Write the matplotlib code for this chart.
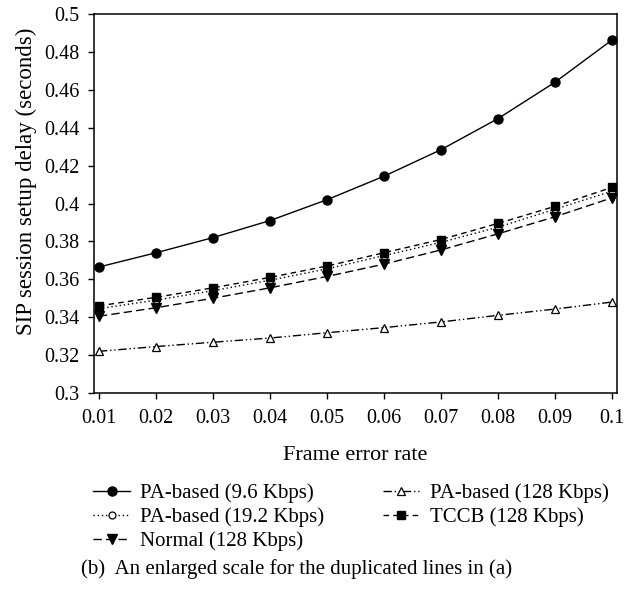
import matplotlib
matplotlib.use("Agg")
import matplotlib.pyplot as plt

plt.rcParams['font.family'] = ['Liberation Serif', 'DejaVu Serif']

fer = [0.01, 0.02, 0.03, 0.04, 0.05, 0.06, 0.07, 0.08, 0.09, 0.1]
xticklabels = ["0.01", "0.02", "0.03", "0.04", "0.05", "0.06", "0.07", "0.08", "0.09", "0.1"]
yticks = [0.3, 0.32, 0.34, 0.36, 0.38, 0.4, 0.42, 0.44, 0.46, 0.48, 0.5]
yticklabels = ["0.3", "0.32", "0.34", "0.36", "0.38", "0.4", "0.42", "0.44", "0.46", "0.48", "0.5"]

pa_96 = [0.3665, 0.374, 0.382, 0.391, 0.402, 0.4144, 0.4284, 0.4448, 0.464, 0.4863]
pa_192 = [0.3445, 0.349, 0.354, 0.3595, 0.3655, 0.3725, 0.3795, 0.3875, 0.397, 0.4065]
normal = [0.3405, 0.345, 0.350, 0.3555, 0.3615, 0.368, 0.3755, 0.384, 0.393, 0.403]
pa_128 = [0.322, 0.3245, 0.3268, 0.329, 0.3318, 0.3345, 0.3375, 0.341, 0.3443, 0.348]
tccb = [0.346, 0.3505, 0.3555, 0.361, 0.367, 0.374, 0.381, 0.3895, 0.3985, 0.4085]

fig = plt.figure(figsize=(6.24, 5.94), dpi=100)
ax = fig.add_axes([0.1506, 0.3384, 0.8382, 0.638])

lw = 1.0
l1, = ax.plot(fer, pa_96, '-', color='black', lw=lw, marker='o', ms=6.5,
              label="PA-based (9.6 Kbps)")
l2, = ax.plot(fer, pa_192, color='black', lw=lw, ls=(0, (1, 2)), marker='o', ms=5,
              mfc='white', mew=0.9, label="PA-based (19.2 Kbps)")
l3, = ax.plot(fer, normal, color='black', lw=lw, ls=(0, (6, 3)), marker='v', ms=6.5,
              label="Normal (128 Kbps)")
l4, = ax.plot(fer, pa_128, color='black', lw=lw, ls=(0, (6, 2, 1, 2, 1, 2)), marker='^',
              ms=5.5, mfc='white', mew=0.9, label="PA-based (128 Kbps)")
l5, = ax.plot(fer, tccb, color='black', lw=lw, ls=(0, (4, 3)), marker='s', ms=5.5,
              label="TCCB (128 Kbps)")

ax.set_xlim(0.00912, 0.10088)
ax.set_ylim(0.3, 0.5)
ax.set_xticks(fer)
ax.set_xticklabels(xticklabels)
ax.set_yticks(yticks)
ax.set_yticklabels(yticklabels)
ax.tick_params(direction='out', length=4.5, width=1, labelsize=14.5,
               top=False, right=False)
ax.tick_params(axis='x', pad=7)
ax.tick_params(axis='y', pad=6)
for s in ax.spines.values():
    s.set_linewidth(1.1)

ax.set_xlabel("Frame error rate", fontsize=16, labelpad=13)
ax.set_ylabel("SIP session setup delay (seconds)", fontsize=16.5)
ax.yaxis.set_label_coords(-0.108, 0.559)

fig.legend(handles=[l1, l2, l3, l4, l5], ncol=2, loc='upper left',
           bbox_to_anchor=(0.1496, 0.186), bbox_transform=fig.transFigure,
           frameon=False, fontsize=15, handlelength=1.75, columnspacing=2.8,
           labelspacing=0.2, handletextpad=0.5, borderpad=0, borderaxespad=0)

fig.text(0.476, 0.042, "(b)  An enlarged scale for the duplicated lines in (a)",
         ha='center', va='center', fontsize=15)

fig.savefig("out.png", dpi=100)
